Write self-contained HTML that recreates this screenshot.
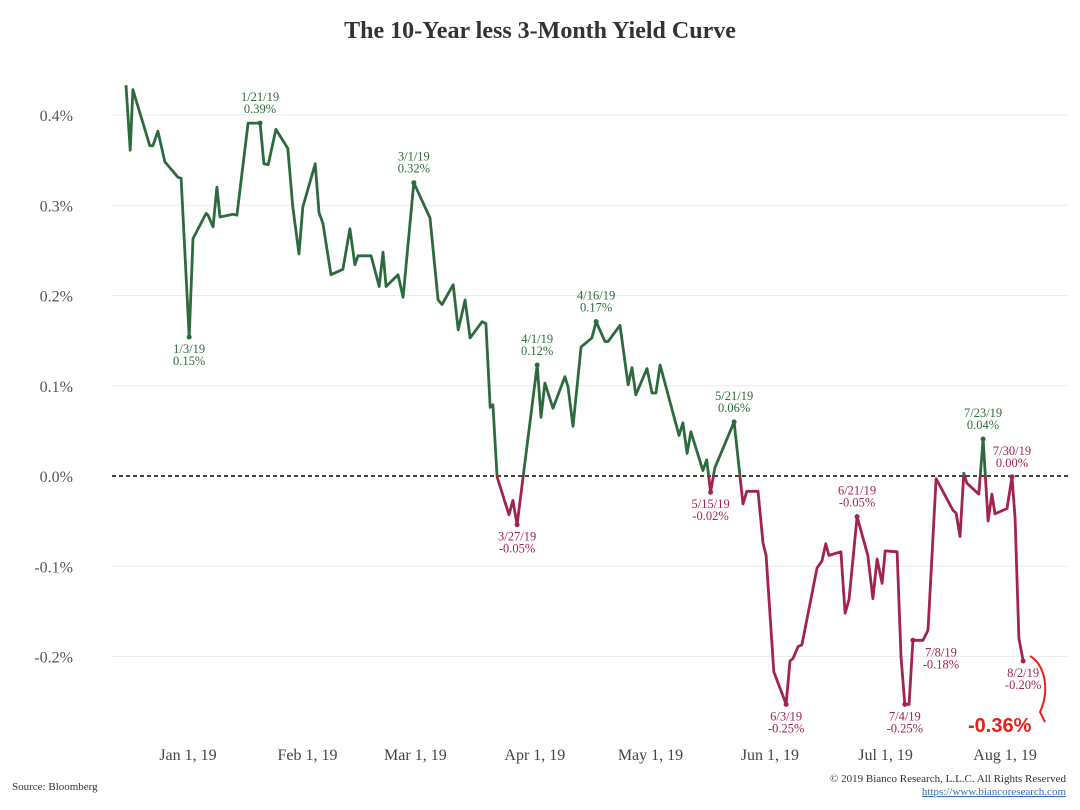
<!DOCTYPE html>
<html><head><meta charset="utf-8"><style>
html,body{margin:0;padding:0;background:#fff;}
svg{display:block;font-family:"Liberation Serif",serif;}
</style></head><body>
<svg id="chart" width="1080" height="810">
<text x="540" y="38" text-anchor="middle" font-size="24" font-weight="bold" fill="#333">The 10-Year less 3-Month Yield Curve</text>
<g id="grid"></g>
<g id="yaxis"></g>
<g id="xaxis"></g>
<defs>
<clipPath id="above"><rect id="clipA" x="0" y="0" width="1080" height="476"/></clipPath>
<clipPath id="below"><rect id="clipB" x="0" y="476" width="1080" height="400"/></clipPath>
</defs>
<line id="zero" x1="112" x2="1068" stroke="#000" stroke-width="1.5" stroke-dasharray="4,3"/>
<g id="series"></g>
<g id="ann"></g>
<text x="968" y="732" font-size="20" fill="#e8201a" font-family="Liberation Sans, sans-serif" font-weight="bold">-0.36%</text>
<path d="M1030,656 C1045,665 1050,690 1040,712 L1045,722" stroke="#e8201a" stroke-width="2" fill="none"/>
<text x="12" y="790" font-size="11" fill="#333">Source: Bloomberg</text>
<text x="1066" y="782" text-anchor="end" font-size="11" fill="#333">© 2019 Bianco Research, L.L.C. All Rights Reserved</text>
<text x="1066" y="795" text-anchor="end" font-size="11" fill="#3b6fb6" text-decoration="underline">https://www.biancoresearch.com</text>
</svg>
<script>
const days=[-16.1,-15,-14.3,-9.9,-9.1,-7.8,-6,-2.6,-1.8,0.3,1.3,4.7,5.2,6.5,7.5,8.3,11.7,12.7,15.6,18.7,19.7,20.8,22.8,25.9,27.2,28.8,29.8,33,34,35,37.1,40.2,42,43.3,44.1,47.5,49.6,50.6,51.4,54.5,55.8,58.6,61.5,62.8,64.9,65.9,68.8,70.1,71.9,73.2,76.3,77.3,78.4,79.1,80.2,83.3,84.3,85.4,90.6,91.6,92.6,94.7,97.8,98.6,99.9,102,104.8,105.9,108.2,109,112.1,114.2,115.2,116.2,119.1,120.4,121.4,122.5,127.4,128.4,129.5,130.5,133.6,134.6,135.6,136.7,141.7,144,145,147.9,149.2,150,152,155.2,156.2,157,158.3,159.3,163.2,164.5,165.5,166.3,169.4,170.5,171.5,173.6,176.4,177.7,178.8,180.1,180.9,184,185,186,187.1,188.1,190.7,192,194.1,198.5,199.3,200.3,201.3,202.1,205.2,206.3,207.6,208.6,209.4,212.5,213.8,214.6,215.6,216.7];
const values=[0.433,0.361,0.428,0.366,0.366,0.382,0.348,0.331,0.33,0.154,0.263,0.291,0.289,0.276,0.32,0.287,0.29,0.289,0.391,0.391,0.346,0.345,0.384,0.363,0.298,0.246,0.298,0.346,0.292,0.28,0.223,0.229,0.274,0.234,0.244,0.244,0.21,0.248,0.21,0.223,0.198,0.325,0.298,0.286,0.195,0.19,0.212,0.162,0.195,0.153,0.171,0.169,0.076,0.079,-0.001,-0.043,-0.027,-0.054,0.123,0.065,0.103,0.075,0.11,0.099,0.055,0.143,0.153,0.171,0.149,0.149,0.167,0.101,0.12,0.09,0.119,0.092,0.092,0.123,0.045,0.059,0.025,0.049,0.006,0.018,-0.018,0.009,0.06,-0.031,-0.017,-0.017,-0.074,-0.088,-0.217,-0.253,-0.205,-0.202,-0.189,-0.187,-0.102,-0.094,-0.075,-0.088,-0.084,-0.152,-0.137,-0.045,-0.088,-0.136,-0.092,-0.119,-0.083,-0.084,-0.2,-0.253,-0.253,-0.182,-0.182,-0.171,-0.003,-0.038,-0.041,-0.067,0.003,-0.008,-0.02,0.041,-0.05,-0.02,-0.042,-0.036,-0.001,-0.047,-0.18,-0.205];
const yTicks=[0.4,0.3,0.2,0.1,0,-0.1,-0.2];
const xTickLabels=["Jan 1, 19","Feb 1, 19","Mar 1, 19","Apr 1, 19","May 1, 19","Jun 1, 19","Jul 1, 19","Aug 1, 19"];
const xTickDays=[0,31,59,90,120,151,181,212];
const annDates=["1/3/19","1/21/19","3/1/19","3/27/19","4/1/19","4/16/19","5/15/19","5/21/19","6/3/19","6/21/19","7/4/19","7/8/19","7/23/19","7/30/19","8/2/19"];
const annDays=[0.3,18.7,58.6,85.4,90.6,105.9,135.6,141.7,155.2,173.6,186,188.1,206.3,213.8,216.7];
const annValues=[0.15,0.39,0.32,-0.05,0.12,0.17,-0.02,0.06,-0.25,-0.05,-0.25,-0.18,0.04,0.00,-0.20];
const annPointValues=[0.154,0.391,0.325,-0.054,0.123,0.171,-0.018,0.06,-0.253,-0.045,-0.253,-0.182,0.041,-0.001,-0.205];
const annBelow=[1,0,0,1,0,0,1,0,1,0,1,1,0,0,1];
const annShiftRight=[0,0,0,0,0,0,0,0,0,0,0,1,0,0,0];

const X=d=>188+d*3.854;
const Y=v=>476-v*902.5;
const NS="http://www.w3.org/2000/svg";
function mk(tag,attrs,parent,txt){const e=document.createElementNS(NS,tag);for(const k in attrs)e.setAttribute(k,attrs[k]);if(txt!==undefined)e.textContent=txt;parent.appendChild(e);return e;}
const grid=document.getElementById('grid'),ya=document.getElementById('yaxis'),xa=document.getElementById('xaxis');
yTicks.forEach(t=>{
  if(t!==0){const l=mk('line',{x1:112,x2:1068,y1:Y(t),y2:Y(t),stroke:'#ececec','stroke-width':1},grid);
  
  }
  const tx=mk('text',{x:73,y:Y(t)+6,'text-anchor':'end','font-size':16,fill:'#555'},ya,t.toFixed(1)+'%');
  
  
});
const z=document.getElementById('zero');z.setAttribute('y1',Y(0));z.setAttribute('y2',Y(0));
document.getElementById('clipA').setAttribute('height',Y(0));
document.getElementById('clipB').setAttribute('y',Y(0));
xTickLabels.forEach((s,i)=>{
  const tx=mk('text',{x:X(xTickDays[i]),y:760,'text-anchor':'middle','font-size':16,fill:'#444'},xa,s);
  
  
});
const d='M'+days.map((dd,i)=>X(dd).toFixed(1)+','+Y(values[i]).toFixed(1)).join(' L');
const ser=document.getElementById('series');
const g=mk('path',{d:d,fill:'none',stroke:'#2d6b3e','stroke-width':2.8,'stroke-linejoin':'round','clip-path':'url(#above)'},ser);


const r=mk('path',{d:d,fill:'none',stroke:'#a2244b','stroke-width':2.8,'stroke-linejoin':'round','clip-path':'url(#below)'},ser);


const ann=document.getElementById('ann');
annDates.forEach((s,i)=>{
  const col=annValues[i]>0?'#2d6b3e':'#a2244b';
  const cx=X(annDays[i]),cy=Y(annPointValues[i]);
  const c=mk('circle',{cx:cx,cy:cy,r:2.5,fill:col},ann);
  
  
  const lx=cx+(annShiftRight[i]?28:0);
  const y1=annBelow[i]?cy+16:cy-22;
  const t1=mk('text',{x:lx,y:y1,'text-anchor':'middle','font-size':12.5,fill:col},ann,s);
  
  
  const t2=mk('text',{x:lx,y:y1+12,'text-anchor':'middle','font-size':12.5,fill:col},ann,annValues[i].toFixed(2)+'%');
  
  
});
</script>
</body></html>
